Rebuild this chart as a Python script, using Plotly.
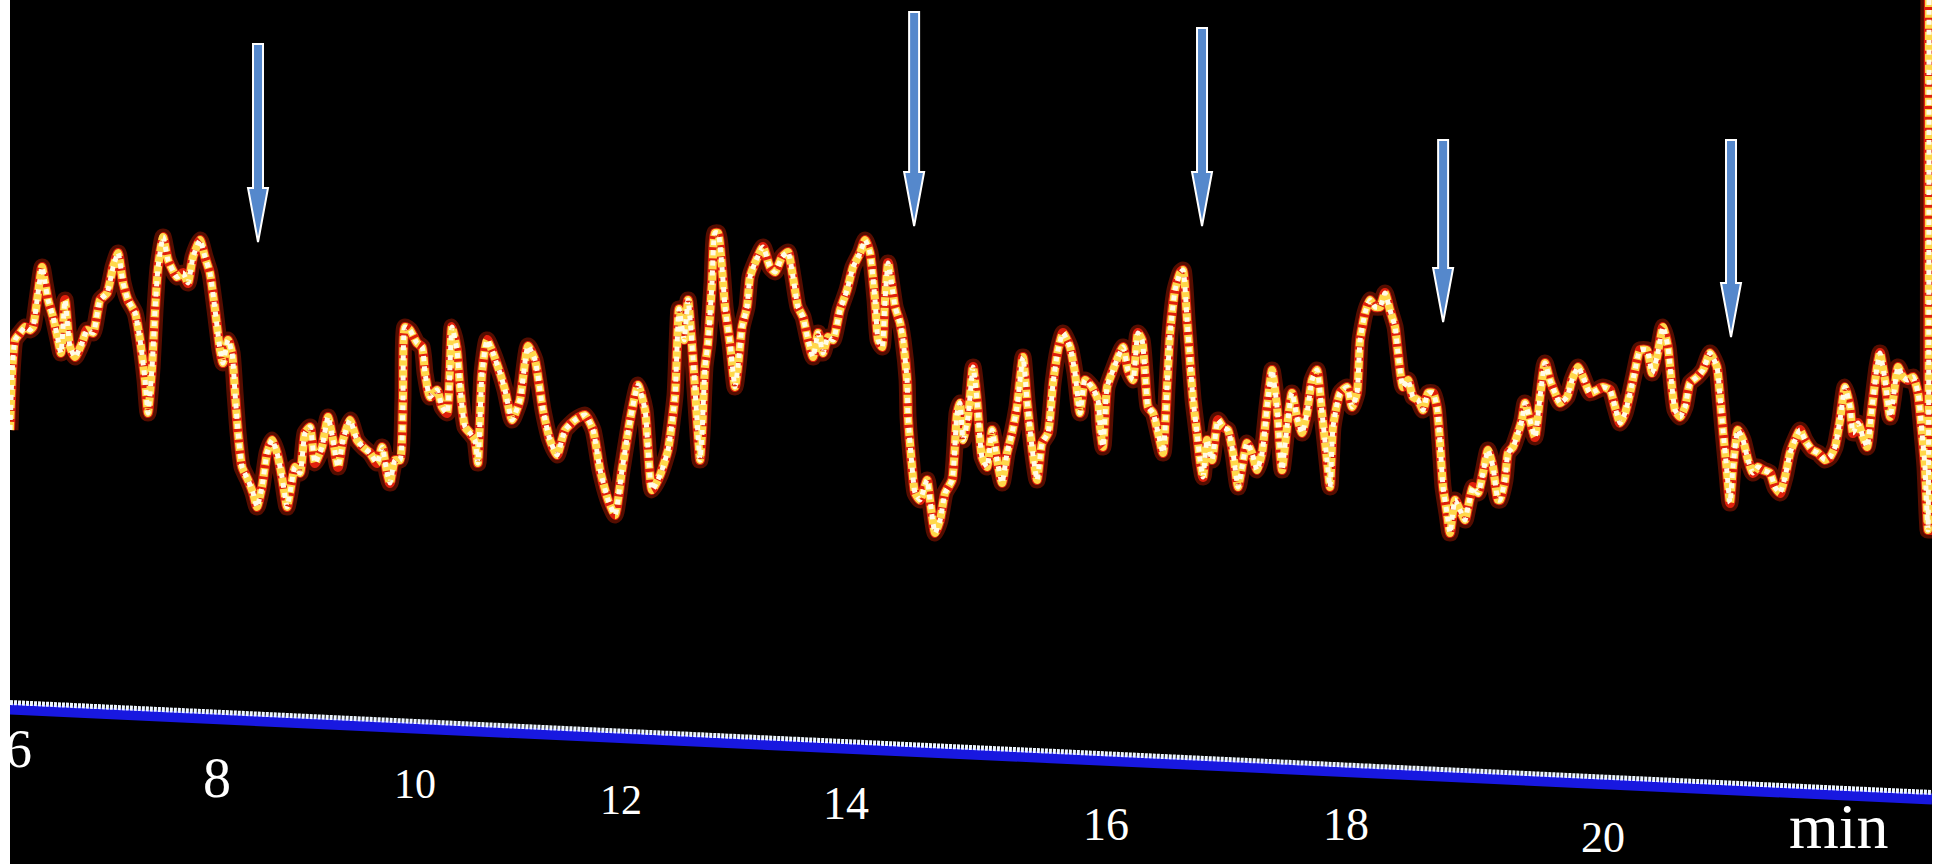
import plotly.graph_objects as go

# ---------------- data ----------------
time_min = [
    5.938, 5.956, 5.982, 6.027, 6.071, 6.115, 6.141, 6.177, 6.221, 6.247, 6.274, 6.318, 6.362, 6.388, 6.424,
    6.468, 6.512, 6.574, 6.618, 6.671, 6.733, 6.795, 6.848, 6.892, 6.936, 6.980, 7.042, 7.086, 7.130, 7.156,
    7.192, 7.218, 7.245, 7.289, 7.333, 7.412, 7.465, 7.509, 7.553, 7.615, 7.659, 7.703, 7.748, 7.792, 7.818,
    7.862, 7.898, 7.924, 7.951, 7.986, 8.039, 8.083, 8.118, 8.162, 8.207, 8.251, 8.295, 8.339, 8.383, 8.409,
    8.454, 8.498, 8.542, 8.586, 8.630, 8.692, 8.745, 8.789, 8.833, 8.877, 8.939, 9.001, 9.054, 9.116, 9.178,
    9.222, 9.266, 9.292, 9.336, 9.380, 9.406, 9.424, 9.468, 9.530, 9.575, 9.601, 9.645, 9.707, 9.751, 9.795,
    9.839, 9.883, 9.910, 9.954, 9.998, 10.042, 10.068, 10.104, 10.148, 10.201, 10.263,
    10.307, 10.369, 10.439, 10.510, 10.572, 10.642, 10.704, 10.766, 10.837, 10.925, 11.013, 11.084, 11.146,
    11.217, 11.278, 11.340, 11.411, 11.481, 11.543, 11.605, 11.676, 11.746, 11.808, 11.843, 11.888, 11.923,
    11.967, 12.002,
    12.028, 12.046, 12.072, 12.099, 12.134, 12.160, 12.187, 12.222, 12.249, 12.293, 12.337, 12.363, 12.399,
    12.443, 12.469, 12.513, 12.584, 12.646, 12.690, 12.752, 12.805, 12.849, 12.893, 12.937, 12.982, 13.026,
    13.070, 13.114, 13.158, 13.202, 13.264, 13.326, 13.379, 13.441, 13.485, 13.529, 13.573, 13.600, 13.635,
    13.661, 13.688, 13.723, 13.750, 13.794, 13.820, 13.856, 13.864, 13.900, 13.926, 13.970, 14.032, 14.058,
    14.103, 14.147, 14.191, 14.253, 14.297, 14.323, 14.350, 14.394, 14.438, 14.473, 14.517, 14.562, 14.606,
    14.650, 14.694, 14.738, 14.782, 14.826, 14.879, 14.914, 14.958, 15.003, 15.047, 15.100, 15.144, 15.188,
    15.232, 15.294, 15.338, 15.382, 15.426, 15.488, 15.541,
    15.559, 15.585, 15.621, 15.674, 15.718, 15.762, 15.806, 15.850, 15.894, 15.930, 15.956, 15.983, 16.027,
    16.071, 16.115, 16.150, 16.177, 16.221, 16.265, 16.291, 16.327, 16.353, 16.380, 16.415, 16.441, 16.468,
    16.503, 16.547, 16.600, 16.644, 16.688, 16.733, 16.777, 16.812, 16.856, 16.900, 16.944, 16.989, 17.033,
    17.077, 17.121, 17.165, 17.209, 17.253, 17.297, 17.342, 17.386, 17.430, 17.474, 17.518, 17.562, 17.589,
    17.615, 17.677, 17.739, 17.783, 17.827, 17.854, 17.898, 17.942, 17.986, 18.030, 18.074, 18.118, 18.163,
    18.189, 18.233, 18.277, 18.321, 18.365, 18.410, 18.454, 18.498, 18.533, 18.560, 18.586, 18.621, 18.648,
    18.692, 18.736, 18.780, 18.807, 18.851, 18.895, 18.939, 18.983, 19.027, 19.072,
    19.089, 19.133, 19.160, 19.204, 19.248, 19.283, 19.310, 19.354, 19.398, 19.442, 19.486, 19.530, 19.575,
    19.619, 19.681, 19.725, 19.778, 19.822, 19.884, 19.946, 19.998, 20.060, 20.104, 20.149, 20.193, 20.237,
    20.281, 20.325, 20.387, 20.431, 20.475, 20.528, 20.572, 20.607, 20.634, 20.678, 20.722, 20.766, 20.828,
    20.881, 20.943, 21.004, 21.031, 21.057, 21.093, 21.119, 21.145, 21.189, 21.234, 21.278, 21.322, 21.366,
    21.410, 21.472, 21.516, 21.560, 21.605, 21.649, 21.693, 21.737, 21.781, 21.843, 21.896, 21.958, 22.002,
    22.046, 22.090, 22.134, 22.179, 22.205, 22.249, 22.293, 22.329, 22.373, 22.417, 22.443, 22.487, 22.532,
    22.558, 22.602, 22.646, 22.690, 22.735, 22.779, 22.814, 22.840, 22.858, 22.867, 22.876,
]

signal = [
    43.4, 49.1, 52.4, 53.1, 53.7, 53.4, 53.7, 56.4, 59.7, 58.1, 56.4, 54.7, 52.4, 51.1, 56.4,
    51.7, 50.7, 52.1, 53.4, 53.1, 56.4, 57.1, 59.7, 61.1, 58.1, 56.4, 55.1, 52.4, 48.4, 45.1,
    49.7, 55.4, 59.7, 62.7, 60.4, 58.7, 59.1, 58.1, 60.7, 62.4, 60.7, 59.1, 55.4, 51.4, 50.1,
    52.4, 51.1, 47.1, 43.1, 39.7, 38.4, 37.1, 35.7, 37.7, 41.1, 42.4, 41.1, 38.7, 35.7, 37.1,
    39.7, 39.1, 43.1, 43.7, 40.1, 41.7, 44.7, 42.4, 39.7, 42.4, 44.4, 42.4, 41.7, 41.1, 40.1,
    41.7, 39.1, 38.1, 40.4, 40.4, 46.4, 53.7, 53.4, 52.1, 51.7, 49.1, 46.7, 47.4, 45.7, 45.1,
    53.7, 51.4, 47.7, 43.7, 43.1, 42.4, 40.1, 49.1, 52.4, 51.1, 49.1,
    47.4, 44.4, 46.4, 51.8, 50.4, 45.4, 42.4, 40.9, 43.4, 44.4, 44.9, 43.4, 39.4,
    36.4, 34.9, 39.4, 44.4, 47.9, 45.4, 37.4, 38.9, 41.4, 46.9, 55.5, 52.4, 56.4,
    50.4, 44.4,
    40.4, 43.1, 49.7, 52.1, 58.1, 63.1, 63.1, 59.7, 55.7, 52.1, 47.7, 49.7, 53.7,
    55.7, 58.7, 60.1, 61.7, 59.7, 59.2, 60.7, 61.2, 58.7, 55.7, 54.7, 52.4, 50.7,
    53.1, 51.1, 52.7, 52.4, 55.4, 57.4, 59.7, 61.1, 62.4, 61.1, 56.4, 52.4, 51.7,
    56.4, 60.1, 57.7, 55.7, 54.1, 52.4, 48.4, 44.7, 39.7, 37.1, 36.4, 38.4, 36.4,
    33.1, 34.4, 37.1, 38.4, 45.1, 46.1, 42.4, 44.7, 49.7, 46.4, 40.7, 39.7, 43.4,
    40.4, 38.1, 41.1, 43.1, 45.7, 50.7, 46.4, 41.7, 38.4, 42.1, 43.1, 48.1, 51.4,
    53.1, 51.7, 49.1, 45.1, 48.4, 47.7, 46.4,
    43.7, 41.7, 47.7, 49.4, 50.7, 51.7, 49.4, 48.4, 53.1, 52.4, 49.1, 45.7, 45.1,
    43.1, 41.1, 47.7, 53.1, 57.4, 59.1, 59.4, 54.4, 50.4, 46.4, 43.1, 40.4, 38.7,
    42.4, 40.4, 44.4, 43.7, 43.4, 41.1, 37.7, 39.7, 42.1, 41.1, 39.4, 41.1, 45.7,
    49.4, 45.7, 39.4, 43.7, 47.1, 44.7, 43.1, 45.1, 48.4, 49.4, 45.1, 40.4, 37.7,
    43.7, 47.1, 47.7, 45.7, 47.1, 52.4, 55.1, 56.4, 55.7, 55.7, 57.1, 55.4, 53.7,
    51.1, 47.7, 48.4, 46.7, 46.4, 45.4, 47.1, 47.1, 45.7, 42.1, 37.7, 35.1, 33.1,
    36.4, 35.4, 34.4, 35.7, 37.7, 37.1, 39.1, 41.4, 39.7, 36.4,
    36.4, 38.4, 41.1, 41.7, 43.1, 44.4, 46.1, 44.4, 42.7, 46.7, 50.1, 48.4, 47.1,
    46.1, 46.7, 48.4, 49.7, 48.7, 47.1, 47.4, 47.7, 47.4, 45.7, 44.1, 45.1, 47.1,
    49.4, 51.4, 51.4, 49.1, 50.7, 53.7, 51.7, 47.7, 45.4, 44.7, 45.7, 48.1, 48.7,
    49.4, 51.1, 49.7, 46.7, 43.4, 39.1, 36.1, 39.7, 43.4, 42.4, 40.4, 39.1, 39.7,
    39.4, 39.1, 37.7, 37.1, 38.7, 41.1, 42.4, 43.4, 42.4, 41.4, 41.1, 40.4, 40.7,
    41.7, 44.4, 47.7, 45.7, 43.1, 44.1, 42.7, 41.7, 45.7, 49.7, 51.1, 48.4, 44.7,
    46.4, 49.7, 48.7, 48.4, 48.7, 47.1, 43.1, 39.7, 35.1, 33.4, 95.0,
]

baseline_time = [5.938, 22.902]
baseline_signal = [15.9, 6.9]

arrow_time = [8.127, 13.918, 16.459, 18.587, 21.128]
arrow_top = [82.0, 85.2, 83.6, 72.4, 72.4]
arrow_tip = [62.2, 63.8, 63.8, 54.2, 52.7]

tick_values = [6, 8, 10, 12, 14, 16, 18, 20]
tick_text = ["6", "8", "10", "12", "14", "16", "18", "20"]
axis_unit = "min"

# ---------------- layout / style ----------------
tick_xshift = [1, -27, -55, -76, -77, -44, -31, 0]
tick_y = [11.5, 8.6, 8.0, 6.4, 6.1, 4.0, 4.0, 0.0]
tick_anchor = ["middle"] * 7 + ["bottom"]
tick_size = [54, 56, 42, 42, 46, 46, 46, 44]
SERIF = "Liberation Serif, Times New Roman, serif"

fig = go.Figure()

# sloping baseline trace (blue glow + white core)
fig.add_trace(go.Scatter(x=baseline_time, y=[v - 0.4 for v in baseline_signal], mode="lines",
                         line=dict(color="#1818e0", width=11), hoverinfo="skip"))
fig.add_trace(go.Scatter(x=baseline_time, y=[v + 0.25 for v in baseline_signal], mode="lines",
                         line=dict(color="#eef6ff", width=5, dash="3px,1px"), hoverinfo="skip"))

# main trace: glow, red body, yellow/white beads
spl = dict(shape="spline", smoothing=0.5)
fig.add_trace(go.Scatter(x=time_min, y=signal, mode="lines",
                         line=dict(color="rgba(170,25,0,0.5)", width=17, **spl), hoverinfo="skip"))
fig.add_trace(go.Scatter(x=time_min, y=signal, mode="lines",
                         line=dict(color="#e0200c", width=10, **spl), hoverinfo="skip"))
fig.add_trace(go.Scatter(x=time_min, y=signal, mode="lines",
                         line=dict(color="#ffd84a", width=8, dash="8px,3px", **spl), hoverinfo="skip"))
fig.add_trace(go.Scatter(x=time_min, y=signal, mode="lines",
                         line=dict(color="#fffbe8", width=5, dash="5px,5px", **spl), hoverinfo="skip"))

# arrows
head_len = 5.4
for t, top, tip in zip(arrow_time, arrow_top, arrow_tip):
    hb = tip + head_len
    path = (f"M -5,{top} L 5,{top} L 5,{hb} L 10,{hb} L 0,{tip} "
            f"L -10,{hb} L -5,{hb} Z")
    fig.add_shape(type="path", path=path, xref="x", yref="y", xsizemode="pixel", xanchor=t,
                  fillcolor="#5588cc", line=dict(color="white", width=2), layer="above")

# tick labels
for v, txt, dx, yy, ya, fs in zip(tick_values, tick_text, tick_xshift, tick_y, tick_anchor, tick_size):
    fig.add_annotation(x=v, y=yy, xref="x", yref="y", text=txt, showarrow=False, xshift=dx,
                       xanchor="center", yanchor=ya,
                       font=dict(family=SERIF, size=fs, color="white"))
fig.add_annotation(x=(1839 - 10) / 1922, y=0.0, xref="paper", yref="y", text=axis_unit,
                   showarrow=False, xanchor="center", yanchor="bottom",
                   font=dict(family=SERIF, size=64, color="white"))

fig.update_layout(
    width=1937, height=864,
    margin=dict(l=10, r=5, t=0, b=0),
    paper_bgcolor="white", plot_bgcolor="black",
    showlegend=False, hovermode=False,
    xaxis=dict(range=[5.938, 22.902], showgrid=False, zeroline=False, showticklabels=False,
               showline=False, ticks=""),
    yaxis=dict(range=[0, 86.4], showgrid=False, zeroline=False, showticklabels=False,
               showline=False, ticks=""),
)

fig.write_html("out.html", config={"displayModeBar": False},
               post_script="document.body.style.margin='0';")
